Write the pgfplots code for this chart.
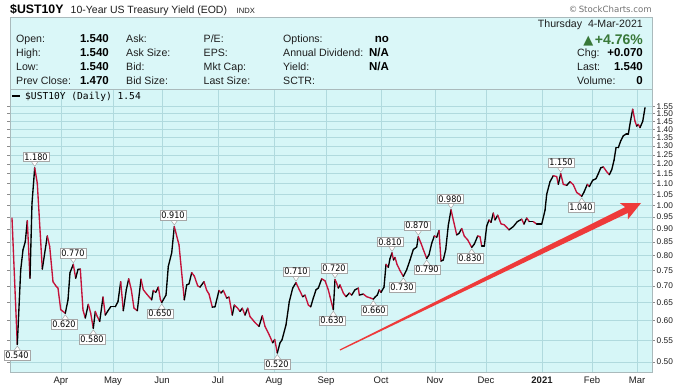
\documentclass[border=0pt]{standalone}
\usepackage{fontspec}
\setmainfont{Liberation Sans}
\newfontfamily\djv{DejaVu Sans}
\newfontfamily\djvc[FakeStretch=0.9]{DejaVu Sans}
\newfontfamily\djvm{DejaVu Sans Mono}
\usepackage{pgfplots}
\usepackage{pgfplotstable}
\pgfplotsset{compat=1.18}

\definecolor{plotbg}{RGB}{214,246,247}
\definecolor{hdrbg}{RGB}{218,247,248}
\definecolor{gridc}{RGB}{176,218,222}
\definecolor{framec}{RGB}{170,186,188}
\definecolor{linered}{RGB}{196,18,58}
\definecolor{arrowred}{RGB}{238,58,58}
\definecolor{upgreen}{RGB}{56,120,56}
\definecolor{txt}{RGB}{30,30,30}

% x = horizontal position on the chart (trading-day scale), y = yield,
% c = 1 if the next close is lower (segment drawn red), 0 otherwise
\pgfplotstableread{
x y c
12 0.945 1
17.3 0.54 0
20.7 0.751 0
23 0.821 0
25.3 0.851 0
27.3 0.934 1
30 0.724 0
32 1.009 0
34.7 1.18 1
37.3 1.102 1
42.3 0.754 0
47.3 0.873 1
49.7 0.833 1
53 0.713 1
56.3 0.698 1
58 0.693 1
60.7 0.63 1
63 0.625 1
65.3 0.62 0
68 0.658 0
70 0.742 0
73.3 0.77 1
75.7 0.724 0
78 0.753 0
80.3 0.754 1
83 0.629 1
85.3 0.607 0
88.3 0.645 1
90.7 0.62 1
93.3 0.58 0
95.3 0.625 1
97.3 0.611 1
99.7 0.598 0
103 0.666 1
105.3 0.615 0
108 0.627 0
110.7 0.638 0
115.3 0.638 0
118 0.653 0
120.7 0.713 1
123.3 0.627 0
126.3 0.688 0
128.7 0.722 1
131.3 0.688 1
134 0.634 1
137.3 0.627 0
141 0.721 1
143.3 0.688 1
146.7 0.675 1
149 0.667 1
151.7 0.658 0
153.3 0.686 1
155.7 0.68 0
158.3 0.696 1
160.3 0.66 1
161.7 0.65 0
166 0.672 0
168.3 0.763 0
171.7 0.81 0
174.3 0.91 1
179 0.839 1
184.3 0.658 0
186.7 0.703 0
189 0.706 0
191.7 0.742 1
194.3 0.731 1
197.7 0.70 1
200 0.696 0
204 0.713 1
206.7 0.686 1
209 0.675 1
212.3 0.637 0
215 0.638 0
219 0.686 1
221 0.678 0
223.3 0.686 1
226.7 0.663 0
229 0.666 1
232.3 0.615 0
234.3 0.643 1
237.7 0.634 1
240 0.625 0
242.3 0.634 1
245 0.615 0
247.7 0.634 1
250 0.611 1
255 0.595 1
259 0.585 0
262.3 0.613 1
265 0.585 1
269.3 0.563 1
272.7 0.544 0
274.7 0.552 1
277.3 0.52 0
280 0.544 0
282 0.551 0
286 0.589 0
289.3 0.653 0
292.7 0.693 0
296 0.71 1
299.3 0.688 1
302.7 0.667 0
305 0.672 1
308.3 0.643 1
310.7 0.638 0
313.3 0.663 0
316 0.688 0
318.3 0.693 0
321.7 0.722 1
325 0.716 1
328.3 0.688 1
330 0.667 1
333.3 0.63 0
335 0.72 1
336.7 0.708 1
338.3 0.693 0
340 0.703 1
343.3 0.678 1
346 0.667 0
349.3 0.678 1
351.7 0.672 0
355 0.688 0
358.3 0.693 1
359.3 0.672 0
363.3 0.675 1
366.7 0.667 1
370.7 0.663 1
373.3 0.66 0
375 0.666 0
377.3 0.672 0
379.3 0.688 1
381 0.68 0
384 0.696 0
386 0.77 1
388.3 0.76 0
390 0.79 0
392 0.81 1
393.5 0.785 0
395 0.794 1
397 0.77 1
400 0.749 1
403.3 0.73 0
406.7 0.752 0
410 0.785 0
413.3 0.822 0
416.7 0.831 0
418.3 0.87 1
421 0.845 1
423.3 0.822 1
426.7 0.79 0
429 0.803 0
431.7 0.845 0
434.3 0.873 1
436.7 0.868 0
439 0.894 1
441 0.781 0
443.3 0.785 0
445.7 0.822 0
448.3 0.915 0
451 0.98 1
453.3 0.937 1
456.7 0.877 0
459 0.883 0
461.7 0.902 1
464.3 0.872 1
467.7 0.858 1
471.7 0.83 0
474.3 0.842 0
477.7 0.873 1
480 0.87 1
481.7 0.835 0
484.3 0.835 0
486.7 0.912 0
489 0.937 1
491 0.927 0
493.3 0.966 1
495 0.937 0
497.7 0.957 1
501 0.921 1
504.3 0.917 1
509 0.897 0
513.3 0.91 0
517.3 0.93 0
521.7 0.94 1
524 0.92 0
526.7 0.945 1
529.3 0.93 0
533.3 0.93 1
536.7 0.92 0
541.7 0.92 0
545 0.978 0
546.7 1.05 0
550 1.11 0
553.3 1.14 1
556.7 1.135 1
558.3 1.097 0
560.7 1.15 1
563.3 1.097 1
566.7 1.092 0
570 1.11 1
573.3 1.095 1
576.7 1.058 1
579.3 1.05 1
581.7 1.04 0
584 1.06 0
587.3 1.097 1
589.3 1.086 0
592.7 1.117 0
596 1.125 0
598.3 1.15 0
600.7 1.18 0
603.3 1.185 1
606.7 1.16 1
609.3 1.145 0
611.7 1.17 0
614 1.22 0
616 1.29 0
618.3 1.29 0
620.7 1.33 0
623.3 1.36 0
626 1.37 0
628.3 1.37 0
630.7 1.46 0
632.7 1.53 1
635 1.45 1
636.7 1.42 0
638.3 1.43 1
640 1.41 0
642.7 1.45 0
645 1.54 0
}\ust

\newcommand\hl[3]{\node[anchor=base west,inner sep=0,text=txt] at (#1,#2) {\fontsize{10.6bp}{12bp}\selectfont #3};}
\newcommand\hv[3]{\node[anchor=base east,inner sep=0,text=black] at (#1,#2) {\fontsize{11.5bp}{12bp}\selectfont\bfseries #3};}
% value labels: pointer triangle + box
\newcommand\labU[4]{%
  \draw[black!35,fill=white,line width=0.5bp] ([yshift=1.5bp]axis cs:#1,#2) -- ([xshift=-3.5bp,yshift=6.5bp]axis cs:#1,#2) -- ([xshift=3.5bp,yshift=6.5bp]axis cs:#1,#2) -- cycle;
  \node[lbl,anchor=south] at ([yshift=6bp]axis cs:#3,#2) {#4};}
\newcommand\labD[4]{%
  \draw[black!35,fill=white,line width=0.5bp] ([yshift=-1.5bp]axis cs:#1,#2) -- ([xshift=-3.5bp,yshift=-6.5bp]axis cs:#1,#2) -- ([xshift=3.5bp,yshift=-6.5bp]axis cs:#1,#2) -- cycle;
  \node[lbl,anchor=north] at ([yshift=-6bp]axis cs:#3,#2) {#4};}

\begin{document}
\begin{tikzpicture}[
  lbl/.style={fill=white,draw=black!35,line width=0.5bp,inner sep=1.4bp,
    font=\djvc\fontsize{9bp}{9.5bp}\selectfont,text=black}]
\begin{scope}[x=1bp,y=-1bp]
\fill[white] (0,0) rectangle (687,386);
% header panel
\draw[framec,fill=hdrbg,line width=0.7bp] (10,17) rectangle (652,89);
% title row
\node[anchor=base west,inner sep=0] at (10,13.5) {\fontsize{12.3bp}{13bp}\selectfont\bfseries \$UST10Y};
\node[anchor=base west,inner sep=0,text=txt] at (70.5,13.5) {\fontsize{10.5bp}{12bp}\selectfont 10-Year US Treasury Yield (EOD)};
\node[anchor=base west,inner sep=0,text=txt] at (236.5,13.5) {\fontsize{7.6bp}{9bp}\selectfont INDX};
\node[anchor=base east,inner sep=0,text=black!55] at (652,13) {\djv\fontsize{8.6bp}{9bp}\selectfont \textcopyright\,StockCharts.com};
% header rows
\hl{16}{43}{Open:}        \hv{109}{43}{1.540}
\hl{16}{57}{High:}        \hv{109}{57}{1.540}
\hl{16}{71}{Low:}         \hv{109}{71}{1.540}
\hl{16}{84.5}{Prev Close:} \hv{109}{84.5}{1.470}
\hl{126}{43}{Ask:}
\hl{126}{57}{Ask Size:}
\hl{126}{71}{Bid:}
\hl{126}{84.5}{Bid Size:}
\hl{203.5}{43}{P/E:}
\hl{203.5}{57}{EPS:}
\hl{203.5}{71}{Mkt Cap:}
\hl{203.5}{84.5}{Last Size:}
\hl{283}{43}{Options:}         \hv{389}{43}{no}
\hl{283}{57}{Annual Dividend:} \hv{389}{57}{N/A}
\hl{283}{71}{Yield:}           \hv{389}{71}{N/A}
\hl{283}{84.5}{SCTR:}
\node[anchor=base east,inner sep=0,text=txt] at (643,28) {\fontsize{10.6bp}{12bp}\selectfont Thursday\ \ 4-Mar-2021};
\node[anchor=base east,inner sep=0,text=upgreen] at (643,44.5) {{\djv\fontsize{13bp}{14bp}\selectfont ▲}\,\fontsize{14bp}{15bp}\selectfont\bfseries +4.76\%};
\hl{577}{57}{Chg:}    \hv{643}{57}{+0.070}
\hl{577}{71}{Last:}   \hv{643}{71}{1.540}
\hl{577}{85}{Volume:} \hv{643}{85}{0}
\end{scope}

\begin{axis}[at={(10bp,-372bp)},anchor=south west,scale only axis,
  width=642bp,height=283bp,clip=false,
  xmin=10,xmax=652,ymode=log,ymin=0.478,ymax=1.673,
  axis background/.style={fill=plotbg},
  axis line style={framec,line width=0.7bp},
  grid=major,grid style={gridc,line width=0.6bp},
  xtick={61,113,162,218,274,326,381,435,486,542,592,637},
  xticklabels={Apr,May,Jun,Jul,Aug,Sep,Oct,Nov,Dec,\textbf{2021},Feb,Mar},
  ytick={0.50,0.55,0.60,0.65,0.70,0.75,0.80,0.85,0.90,0.95,1.00,1.05,1.10,1.15,1.20,1.25,1.30,1.35,1.40,1.45,1.50,1.55},
  yticklabels={0.50,0.55,0.60,0.65,0.70,0.75,0.80,0.85,0.90,0.95,1.00,1.05,1.10,1.15,1.20,1.25,1.30,1.35,1.40,1.45,1.50,1.55},
  yticklabel pos=right,
  tick align=outside,major tick length=2.5bp,
  xtick style={draw=none},ytick style={draw=black!45,line width=0.5bp},
  minor tick num=0,
  /pgf/number format/assume math mode=true,
  xticklabel style={font=\fontsize{9.5bp}{10bp}\selectfont,text=txt,yshift=1bp},
  yticklabel style={font=\fontsize{8.3bp}{8.5bp}\selectfont,text=txt,inner sep=0bp,xshift=2bp},
  colormap={updown}{color=(black) color=(linered)},
  point meta min=0,point meta max=1,
]
\addplot[mesh,shader=flat corner,point meta=explicit,line width=1.35bp,line join=round,line cap=round]
  table[x=x,y=y,meta=c] {\ust};
\labU{34.7}{1.18}{36}{1.180}
\labD{17.3}{0.54}{17}{0.540}
\labU{73.3}{0.77}{73}{0.770}
\labD{65.3}{0.62}{64}{0.620}
\labD{93.3}{0.58}{92}{0.580}
\labU{174.3}{0.91}{173}{0.910}
\labD{161.7}{0.65}{160}{0.650}
\labD{277.3}{0.52}{277}{0.520}
\labU{296}{0.71}{296}{0.710}
\labU{335}{0.72}{334}{0.720}
\labD{333.3}{0.63}{332}{0.630}
\labD{373.3}{0.66}{374}{0.660}
\labU{392}{0.81}{390}{0.810}
\labD{403.3}{0.73}{402}{0.730}
\labU{418.3}{0.87}{417}{0.870}
\labD{426.7}{0.79}{427}{0.790}
\labU{451}{0.98}{450}{0.980}
\labD{471.7}{0.83}{470}{0.830}
\labU{560.7}{1.15}{561}{1.150}
\labD{581.7}{1.04}{581}{1.040}
\end{axis}

\begin{scope}[x=1bp,y=-1bp]
% legend
\draw[black,line width=2bp] (12,96.5) -- (20,96.5);
\node[anchor=base west,inner sep=0] at (25,100) {\djvm\fontsize{9.6bp}{10bp}\selectfont \$UST10Y (Daily) 1.54};
% red arrow
\fill[arrowred] (339.7,349.5) -- (625.2,207.1) -- (619.95,203.2) -- (641,203) -- (627.9,219.4) -- (628.0,212.9) -- (340.3,350.5) -- cycle;
\end{scope}
\end{tikzpicture}
\end{document}
